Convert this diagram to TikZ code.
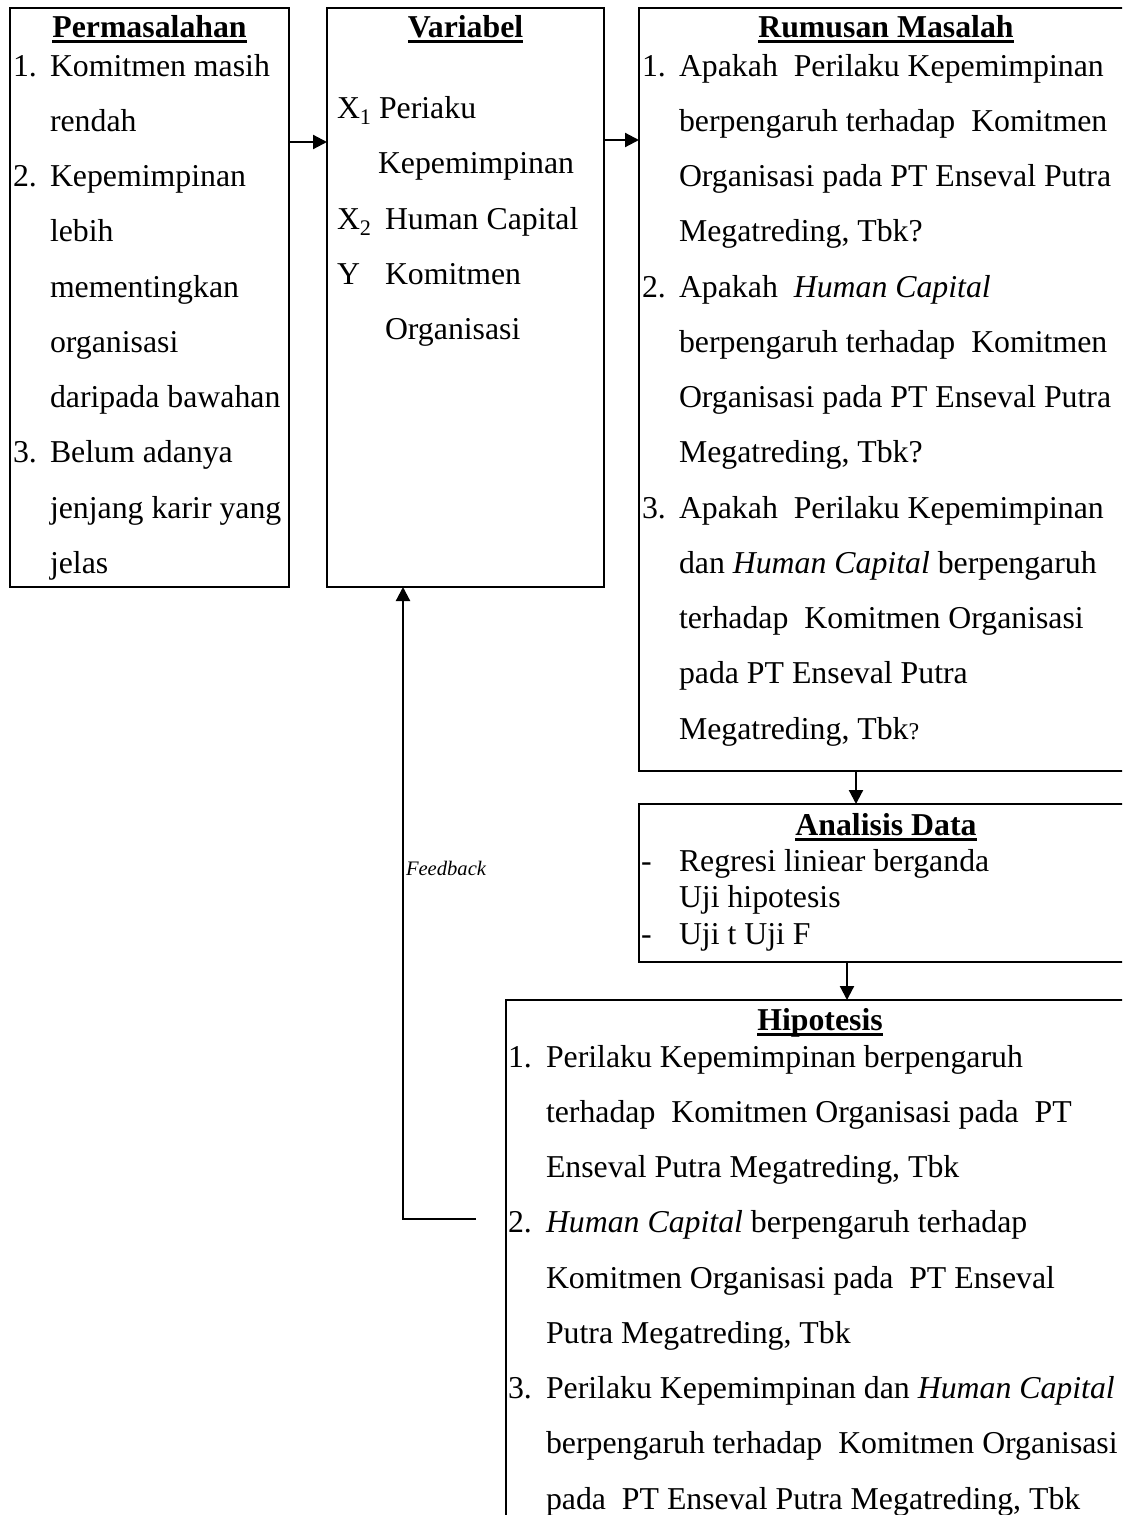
\documentclass[tikz,border=0pt]{standalone}
\usepackage{fontspec}
\setmainfont{Liberation Serif}
\usetikzlibrary{arrows.meta}
\begin{document}
\begin{tikzpicture}[x=1pt,y=-1pt,
  box/.style={draw, line width=2.7pt, inner sep=0pt, outer sep=0pt},
  txt/.style={anchor=base west, inner sep=0pt, outer sep=0pt, font=\fontsize{31.8}{36}\selectfont},
  hd/.style={anchor=base, inner sep=0pt, outer sep=0pt, font=\fontsize{31.8}{36}\selectfont\bfseries},
  arr/.style={line width=2.2pt, -{Triangle[length=14pt,width=14pt]}},
  uline/.style={line width=3pt},
  fbtext/.style={anchor=base west, inner sep=0pt, outer sep=0pt, font=\fontsize{20.6}{24}\selectfont\itshape}]
\fill[white] (0,0) rectangle (1122,1515);
\useasboundingbox (0,0) rectangle (1122,1515);
\clip (0,0) rectangle (1122,1515);

% boxes
\node[box, minimum width=279pt, minimum height=579pt] (perm) at (149.5,297.5) {};
\node[box, minimum width=277pt, minimum height=579pt] (var) at (465.5,297.5) {};
\node[box, minimum width=495pt, minimum height=763pt] (rum) at (886.5,389.5) {};
\node[box, minimum width=495pt, minimum height=158pt] (ana) at (886.5,883) {};
\node[box, minimum width=628pt, minimum height=560pt] (hip) at (820,1280) {};

% helper coordinates
\coordinate (r1) at (0,142);
\coordinate (r2) at (0,140);
\coordinate (c1) at (856,0);
\coordinate (c2) at (847,0);
\coordinate (fx) at (403,0);
\coordinate (fb) at (476,1219);

% connectors
\draw[arr] (perm.east |- r1) -- (var.west |- r1);
\draw[arr] (var.east |- r2) -- (rum.west |- r2);
\draw[arr] (rum.south -| c1) -- (ana.north -| c1);
\draw[arr] (ana.south -| c2) -- (hip.north -| c2);
\draw[arr] (fb) -| (var.south -| fx);
\node[fbtext] (fbt) at (406,875) {Feedback};

% headings
\node[hd] (hp) at (149.5,37) {Permasalahan};
\node[hd] (hv) at (465.5,37) {Variabel};
\node[hd] (hr) at (886,37) {Rumusan Masalah};
\node[hd] (ha) at (886,835) {Analisis Data};
\node[hd] (hh) at (820,1030) {Hipotesis};
\foreach \h in {hp,hv,hr,ha,hh}
  \draw[uline] ([yshift=-4.5pt]\h.base west) -- ([yshift=-4.5pt]\h.base east);

% Permasalahan
\node[txt] (pn1) at (13,76) {1.};
\node[txt] (pn2) at (13,186.5) {2.};
\node[txt] (pn3) at (13,462.75) {3.};
\foreach \t [count=\k from 0] in {{Komitmen masih},{rendah},{Kepemimpinan},{lebih},{mementingkan},{organisasi},{daripada bawahan},{Belum adanya},{jenjang karir yang},{jelas}}
  \node[txt] (pt\k) at (50,76+55.25*\k) {\t};

% Variabel
\node[txt] (v1l) at (337,118) {X\textsubscript{1}};
\node[txt] (v1) at (379,118) {Periaku};
\node[txt] (v2) at (378,173.5) {Kepemimpinan};
\node[txt] (v3l) at (337,229) {X\textsubscript{2}};
\node[txt] (v3) at (385,229) {Human Capital};
\node[txt] (v4l) at (337,284) {Y};
\node[txt] (v4) at (385,284) {Komitmen};
\node[txt] (v5) at (385,339.5) {Organisasi};

% Rumusan Masalah
\node[txt] (rn1) at (642,76) {1.};
\node[txt] (rn2) at (642,297) {2.};
\node[txt] (rn3) at (642,518) {3.};
\foreach \t [count=\k from 0] in {{Apakah\ \ Perilaku Kepemimpinan},{berpengaruh terhadap\ \ Komitmen},{Organisasi pada PT Enseval Putra},{Megatreding, Tbk?},{Apakah\ \ \textit{Human Capital}},{berpengaruh terhadap\ \ Komitmen},{Organisasi pada PT Enseval Putra},{Megatreding, Tbk?},{Apakah\ \ Perilaku Kepemimpinan},{dan \textit{Human Capital} berpengaruh},{terhadap\ \ Komitmen Organisasi},{pada PT Enseval Putra},{Megatreding, Tbk{\fontsize{24}{24}\selectfont ?}}}
  \node[txt] (rt\k) at (679,76+55.25*\k) {\t};

% Analisis Data
\node[txt] (ad1) at (641,871) {-};
\node[txt] (ad3) at (641,944) {-};
\node[txt] (at1) at (679,871) {Regresi liniear berganda};
\node[txt] (at2) at (679,907) {Uji hipotesis};
\node[txt] (at3) at (679,944) {Uji t Uji F};

% Hipotesis
\node[txt] (hn1) at (508,1067) {1.};
\node[txt] (hn2) at (508,1232.75) {2.};
\node[txt] (hn3) at (508,1398.5) {3.};
\foreach \t [count=\k from 0] in {{Perilaku Kepemimpinan berpengaruh},{terhadap\ \ Komitmen Organisasi pada\ \ PT},{Enseval Putra Megatreding, Tbk},{\textit{Human Capital} berpengaruh terhadap},{Komitmen Organisasi pada\ \ PT Enseval},{Putra Megatreding, Tbk},{Perilaku Kepemimpinan dan \textit{Human Capital}},{berpengaruh terhadap\ \ Komitmen Organisasi},{pada\ \ PT Enseval Putra Megatreding, Tbk}}
  \node[txt] (ht\k) at (546,1067+55.25*\k) {\t};
\end{tikzpicture}
\end{document}
